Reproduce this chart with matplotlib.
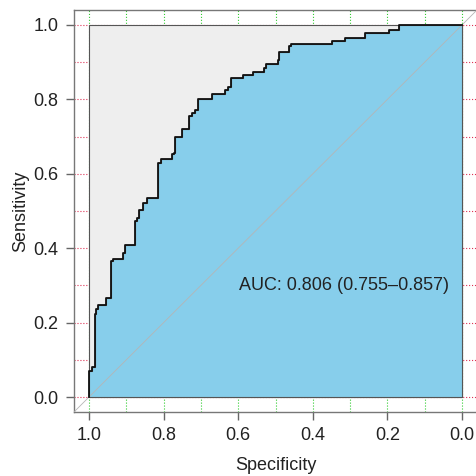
import numpy as np
import matplotlib
matplotlib.use("Agg")
import matplotlib.pyplot as plt

plt.rcParams['font.family'] = ['Liberation Sans', 'DejaVu Sans']

# ROC operating points (step corners)
spec = [1.000, 0.993, 0.985, 0.980, 0.975, 0.953, 0.942, 0.935, 0.908, 0.902,
        0.877, 0.872, 0.867, 0.855, 0.845, 0.815, 0.807, 0.777, 0.773, 0.768,
        0.751, 0.732, 0.725, 0.717, 0.707, 0.671, 0.634, 0.627, 0.619, 0.588,
        0.561, 0.531, 0.526, 0.494, 0.490, 0.463, 0.458, 0.349, 0.314, 0.261,
        0.195, 0.170, 0.000]
sens = [0.000, 0.070, 0.081, 0.223, 0.237, 0.247, 0.266, 0.366, 0.370, 0.388,
        0.409, 0.473, 0.482, 0.502, 0.522, 0.535, 0.630, 0.639, 0.652, 0.657,
        0.699, 0.720, 0.755, 0.764, 0.772, 0.802, 0.814, 0.824, 0.834, 0.856,
        0.866, 0.874, 0.885, 0.894, 0.905, 0.926, 0.944, 0.948, 0.957, 0.966,
        0.977, 0.987, 1.000]
auc_text = "AUC: 0.806 (0.755\u20130.857)"
ticks = [0.0, 0.2, 0.4, 0.6, 0.8, 1.0]
grid_steps = np.arange(0, 1.01, 0.1)

# step path (vertical first at each specificity)
px = np.repeat(spec, 2)[:-1]
py = np.repeat(sens, 2)[1:]

fig = plt.figure(figsize=(4.77, 4.76), dpi=100)
ax = fig.add_axes([74 / 477, 64 / 476, 403 / 477, 402 / 476])
ax.set_xlim(1.04, -0.04)
ax.set_ylim(-0.04, 1.04)

for g in grid_steps:
    ax.axvline(g, color='#33cc33', ls=':', lw=0.8, zorder=0)
    ax.axhline(g, color='#dd3355', ls=':', lw=0.8, zorder=0)

# max auc polygon and auc polygon
ax.fill([1, 1, 0, 0], [0, 1, 1, 0], facecolor='#EEEEEE', edgecolor='#555555', lw=0.8, zorder=1)
ax.fill(np.r_[px, 0.0, 1.0], np.r_[py, 0.0, 0.0], facecolor='skyblue',
        edgecolor='#555555', lw=0.8, zorder=2)

ax.plot([1.04, -0.04], [-0.04, 1.04], color='#b5b5b5', lw=0.6, zorder=3)
ax.plot(px, py, color='#111111', lw=1.3, zorder=4)

ax.text(0.316, 0.30, auc_text, ha='center', va='center', fontsize=13, color='#222222', zorder=5)

ax.set_xticks(ticks)
ax.set_yticks(ticks)
ax.set_xticklabels(['%.1f' % t for t in ticks])
ax.set_yticklabels(['%.1f' % t for t in ticks])
ax.tick_params(axis='both', labelsize=13, colors='#222222', length=6, width=1, pad=5)
ax.tick_params(axis='both', color='#666666')
for s in ax.spines.values():
    s.set_color('#777777')
    s.set_linewidth(1)

ax.set_xlabel('Specificity', fontsize=13, color='#222222', labelpad=9)
ax.set_ylabel('Sensitivity', fontsize=13, color='#222222', labelpad=3)

fig.savefig('out.png', dpi=100)
